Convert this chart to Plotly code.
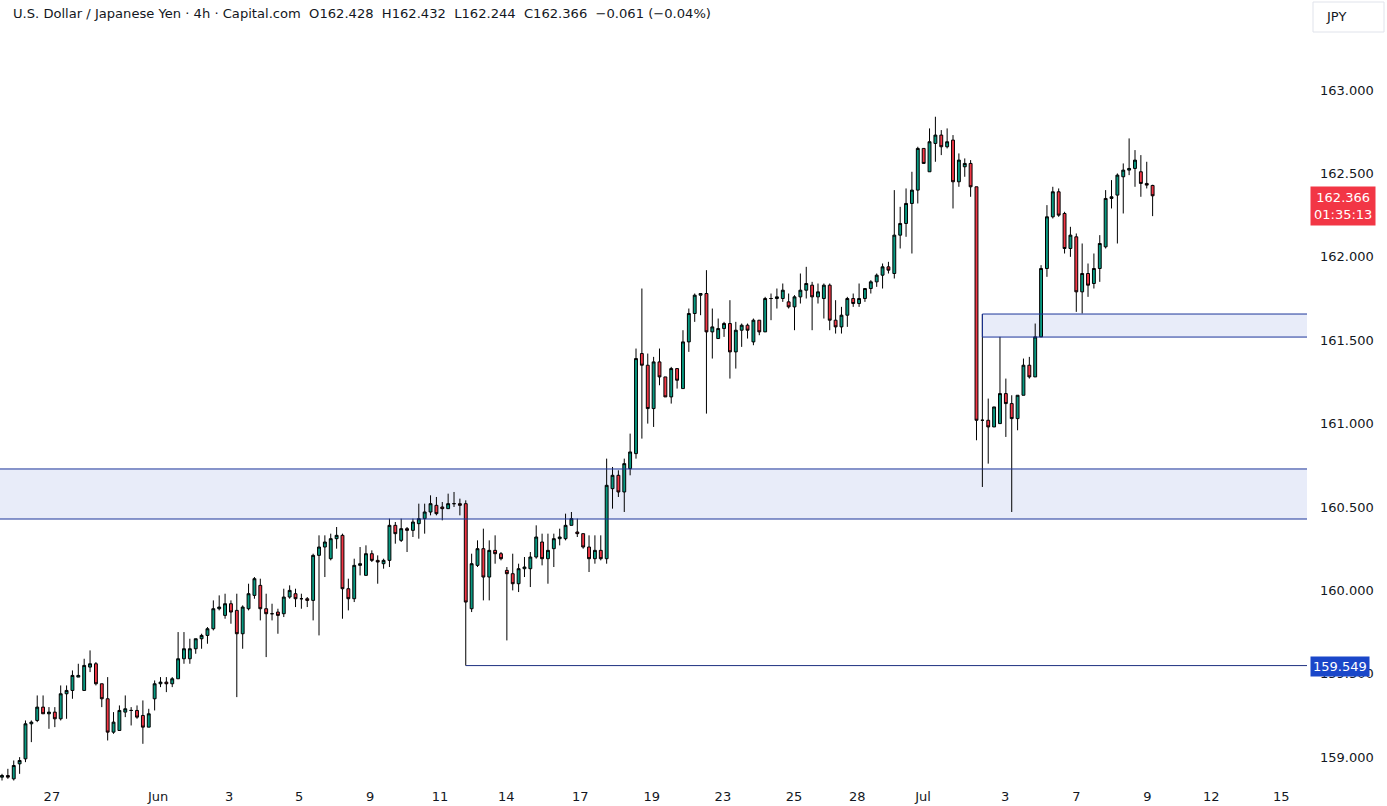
import plotly.graph_objects as go

# ---------------- data (USD/JPY, 4h, Capital.com) ----------------
opens = [
    158.88, 158.89, 158.87, 158.96, 158.99, 159.20, 159.22, 159.30, 159.26, 159.27,
    159.23, 159.38, 159.40, 159.48, 159.40, 159.54, 159.56, 159.44, 159.35, 159.15,
    159.16, 159.27, 159.28, 159.28, 159.25, 159.18, 159.35, 159.44, 159.45, 159.44,
    159.47, 159.59, 159.59, 159.65, 159.71, 159.73, 159.77, 159.89, 159.85, 159.92,
    159.88, 159.74, 159.89, 159.97, 160.03, 159.89, 159.86, 159.87, 159.86, 159.96,
    159.98, 159.95, 159.95, 159.94, 160.21, 160.26, 160.19, 160.31, 160.33, 160.01,
    159.95, 160.15, 160.09, 160.22, 160.18, 160.16, 160.18, 160.39, 160.30, 160.37,
    160.36, 160.40, 160.43, 160.47, 160.51, 160.50, 160.49, 160.52, 160.52, 160.52,
    159.89, 160.15, 160.25, 160.08, 160.24, 160.22, 160.12, 160.10, 160.04, 160.13,
    160.13, 160.20, 160.29, 160.19, 160.25, 160.31, 160.31, 160.39, 160.35, 160.34,
    160.26, 160.19, 160.24, 160.19, 160.61, 160.69, 160.59, 160.73, 160.82, 161.42,
    161.35, 161.09, 161.37, 161.28, 161.16, 161.33, 161.21, 161.49, 161.66, 161.77,
    161.78, 161.55, 161.51, 161.57, 161.60, 161.43, 161.56, 161.59, 161.49, 161.62,
    161.55, 161.75, 161.75, 161.75, 161.73, 161.70, 161.76, 161.80, 161.83, 161.76,
    161.75, 161.83, 161.62, 161.58, 161.65, 161.75, 161.72, 161.75, 161.81, 161.85,
    161.89, 161.94, 161.90, 162.13, 162.20, 162.32, 162.40, 162.65, 162.51, 162.68,
    162.73, 162.66, 162.70, 162.45, 162.54, 162.56, 162.42, 161.02, 161.02, 160.98,
    161.00, 161.18, 161.12, 161.03, 161.17, 161.35, 161.28, 161.52, 161.93, 162.24,
    162.39, 162.26, 162.05, 162.12, 161.79, 161.90, 161.84, 161.93, 162.06, 162.35,
    162.37, 162.48, 162.52, 162.53, 162.51, 162.44, 162.428,
]
highs = [
    158.90, 158.93, 158.98, 159.00, 159.22, 159.22, 159.37, 159.37, 159.30, 159.30,
    159.43, 159.43, 159.52, 159.56, 159.59, 159.64, 159.57, 159.44, 159.48, 159.27,
    159.31, 159.37, 159.30, 159.31, 159.34, 159.29, 159.46, 159.48, 159.48, 159.48,
    159.75, 159.75, 159.71, 159.71, 159.74, 159.78, 159.94, 159.97, 159.98, 159.94,
    159.98, 159.91, 160.04, 160.08, 160.07, 159.98, 159.92, 159.89, 160.01, 160.03,
    160.01, 159.98, 159.96, 160.22, 160.33, 160.33, 160.34, 160.38, 160.34, 160.07,
    160.19, 160.26, 160.27, 160.24, 160.21, 160.19, 160.43, 160.41, 160.43, 160.38,
    160.43, 160.52, 160.52, 160.57, 160.56, 160.53, 160.58, 160.59, 160.55, 160.54,
    160.22, 160.30, 160.37, 160.30, 160.33, 160.23, 160.14, 160.22, 160.16, 160.20,
    160.23, 160.39, 160.34, 160.34, 160.34, 160.37, 160.46, 160.47, 160.43, 160.34,
    160.33, 160.33, 160.33, 160.79, 160.74, 160.72, 160.79, 160.94, 161.45, 161.81,
    161.42, 161.40, 161.45, 161.28, 161.34, 161.33, 161.56, 161.69, 161.78, 161.78,
    161.92, 161.69, 161.63, 161.61, 161.74, 161.61, 161.60, 161.60, 161.63, 161.62,
    161.76, 161.78, 161.81, 161.84, 161.78, 161.77, 161.90, 161.94, 161.85, 161.84,
    161.84, 161.84, 161.74, 161.70, 161.76, 161.78, 161.84, 161.81, 161.86, 161.90,
    161.96, 161.97, 162.40, 162.30, 162.41, 162.51, 162.66, 162.65, 162.77, 162.84,
    162.76, 162.77, 162.73, 162.62, 162.59, 162.58, 162.42, 161.657, 161.15, 161.10,
    161.52, 161.27, 161.17, 161.17, 161.39, 161.40, 161.60, 161.95, 162.31, 162.42,
    162.41, 162.27, 162.18, 162.14, 162.08, 161.96, 162.02, 162.13, 162.40, 162.46,
    162.50, 162.56, 162.71, 162.64, 162.61, 162.57, 162.432,
]
lows = [
    158.86, 158.87, 158.86, 158.90, 158.97, 159.09, 159.21, 159.26, 159.17, 159.18,
    159.22, 159.23, 159.35, 159.48, 159.40, 159.51, 159.43, 159.30, 159.10, 159.14,
    159.16, 159.24, 159.19, 159.23, 159.08, 159.18, 159.28, 159.42, 159.39, 159.42,
    159.47, 159.56, 159.56, 159.62, 159.65, 159.68, 159.76, 159.88, 159.83, 159.80,
    159.36, 159.65, 159.88, 159.95, 159.82, 159.60, 159.82, 159.74, 159.84, 159.95,
    159.90, 159.89, 159.90, 159.82, 159.73, 160.08, 160.18, 160.25, 159.83, 159.88,
    159.93, 160.09, 160.09, 160.17, 160.04, 160.13, 160.14, 160.28, 160.29, 160.23,
    160.32, 160.31, 160.34, 160.45, 160.45, 160.42, 160.49, 160.50, 160.45, 159.549,
    159.87, 160.14, 159.94, 159.94, 160.16, 160.18, 159.70, 160.00, 159.99, 160.08,
    160.02, 160.19, 160.15, 160.04, 160.14, 160.27, 160.30, 160.39, 160.32, 160.25,
    160.11, 160.16, 160.18, 160.16, 160.49, 160.56, 160.47, 160.69, 160.79, 160.91,
    161.00, 160.98, 161.23, 161.16, 161.12, 161.21, 161.21, 161.43, 161.61, 161.65,
    161.06, 161.39, 161.51, 161.52, 161.27, 161.33, 161.46, 161.51, 161.47, 161.53,
    161.55, 161.62, 161.69, 161.73, 161.69, 161.56, 161.72, 161.75, 161.56, 161.72,
    161.63, 161.56, 161.54, 161.54, 161.58, 161.70, 161.70, 161.73, 161.78, 161.82,
    161.81, 161.90, 161.87, 162.05, 162.12, 162.02, 162.32, 162.56, 162.51, 162.57,
    162.61, 162.65, 162.29, 162.42, 162.48, 162.36, 160.90, 160.62, 160.76, 160.98,
    161.00, 160.92, 160.47, 160.96, 161.17, 161.27, 161.28, 161.52, 161.88, 162.23,
    162.24, 162.02, 162.00, 161.67, 161.66, 161.76, 161.81, 161.85, 162.05, 162.29,
    162.08, 162.26, 162.49, 162.42, 162.36, 162.41, 162.244,
]
closes = [
    158.89, 158.88, 158.95, 158.98, 159.20, 159.21, 159.30, 159.26, 159.27, 159.23,
    159.38, 159.40, 159.49, 159.49, 159.55, 159.56, 159.44, 159.35, 159.15, 159.21,
    159.28, 159.29, 159.28, 159.24, 159.18, 159.26, 159.44, 159.45, 159.44, 159.47,
    159.59, 159.65, 159.65, 159.71, 159.73, 159.77, 159.89, 159.90, 159.92, 159.87,
    159.74, 159.90, 159.98, 160.07, 159.89, 159.86, 159.86, 159.85, 159.96, 160.00,
    159.95, 159.95, 159.94, 160.21, 160.26, 160.29, 160.31, 160.33, 160.01, 159.95,
    160.15, 160.16, 160.22, 160.18, 160.17, 160.18, 160.39, 160.34, 160.37, 160.36,
    160.41, 160.43, 160.47, 160.52, 160.46, 160.49, 160.52, 160.52, 160.51, 159.93,
    160.16, 160.25, 160.08, 160.24, 160.22, 160.19, 160.10, 160.04, 160.13, 160.14,
    160.20, 160.32, 160.19, 160.24, 160.31, 160.32, 160.39, 160.43, 160.34, 160.26,
    160.19, 160.24, 160.19, 160.63, 160.69, 160.59, 160.76, 160.83, 161.39, 161.35,
    161.09, 161.37, 161.28, 161.16, 161.33, 161.26, 161.49, 161.66, 161.77, 161.78,
    161.55, 161.58, 161.57, 161.60, 161.43, 161.56, 161.59, 161.56, 161.62, 161.55,
    161.75, 161.75, 161.76, 161.80, 161.70, 161.76, 161.80, 161.84, 161.76, 161.79,
    161.83, 161.62, 161.58, 161.65, 161.75, 161.72, 161.75, 161.81, 161.85, 161.89,
    161.94, 161.92, 162.13, 162.20, 162.32, 162.40, 162.65, 162.56, 162.69, 162.73,
    162.66, 162.69, 162.45, 162.58, 162.56, 162.42, 161.02, 161.02, 160.98, 161.10,
    161.18, 161.12, 161.03, 161.17, 161.35, 161.28, 161.52, 161.93, 162.24, 162.39,
    162.25, 162.05, 162.13, 161.79, 161.90, 161.83, 161.93, 162.08, 162.35, 162.36,
    162.49, 162.52, 162.53, 162.58, 162.44, 162.43, 162.366,
]
assert len(opens) == len(highs) == len(lows) == len(closes)

# time-axis labels and the bar positions where they fall
tick_labels = ["27", "Jun", "3", "5", "9", "11", "14", "17", "19", "23", "25",
               "28", "Jul", "3", "7", "9", "12", "15"]
tick_bars = [8.5, 26.6, 38.7, 50.6, 62.7, 74.6, 85.9, 98.5, 110.7, 122.8, 134.9,
             145.7, 156.9, 170.9, 183.0, 195.1, 206.0, 217.9]

price_ticks = [159.0, 159.5, 160.0, 160.5, 161.0, 161.5, 162.0, 162.5, 163.0]

# drawings
zone1 = (160.428, 160.728)          # wide demand zone
zone2 = (161.519, 161.657)          # small zone after the drop
level_price = 159.549               # horizontal line level
last_price = 162.366
countdown = "01:35:13"

header = ("U.S. Dollar / Japanese Yen · 4h · Capital.com  "
          "O162.428  H162.432  L162.244  C162.366  −0.061 (−0.04%)")

# ---------------- figure ----------------
bars = list(range(len(opens)))
X_MIN, X_MAX = -0.34, 222.3
Y_MIN, Y_MAX = 158.851, 163.540

GREEN, RED = "#089981", "#F23645"
ZONE_FILL, ZONE_LINE = "#E8ECF9", "#1B3499"
TXT = "#131722"
FONT = "DejaVu Sans"

fig = go.Figure()
fig.add_trace(go.Candlestick(
    x=bars, open=opens, high=highs, low=lows, close=closes,
    increasing=dict(fillcolor=GREEN, line=dict(color="#000000", width=1)),
    decreasing=dict(fillcolor=RED, line=dict(color="#000000", width=1)),
    whiskerwidth=0, showlegend=False, hoverinfo="skip",
))

zone2_start = highs.index(zone2[1])
level_start = lows.index(level_price)

shapes = [
    # wide zone
    dict(type="rect", xref="paper", yref="y", x0=0, x1=1, y0=zone1[0], y1=zone1[1],
         fillcolor=ZONE_FILL, line=dict(width=0), layer="below"),
    dict(type="line", xref="paper", yref="y", x0=0, x1=1, y0=zone1[0], y1=zone1[0],
         line=dict(color=ZONE_LINE, width=1)),
    dict(type="line", xref="paper", yref="y", x0=0, x1=1, y0=zone1[1], y1=zone1[1],
         line=dict(color=ZONE_LINE, width=1)),
    # small zone
    dict(type="rect", xref="x", yref="y", x0=zone2_start, x1=X_MAX, y0=zone2[0], y1=zone2[1],
         fillcolor=ZONE_FILL, line=dict(width=0), layer="below"),
    dict(type="line", xref="x", yref="y", x0=zone2_start, x1=X_MAX, y0=zone2[0], y1=zone2[0],
         line=dict(color=ZONE_LINE, width=1)),
    dict(type="line", xref="x", yref="y", x0=zone2_start, x1=X_MAX, y0=zone2[1], y1=zone2[1],
         line=dict(color=ZONE_LINE, width=1)),
    dict(type="line", xref="x", yref="y", x0=zone2_start, x1=zone2_start, y0=zone2[0], y1=zone2[1],
         line=dict(color=ZONE_LINE, width=1)),
    # horizontal level
    dict(type="line", xref="x", yref="y", x0=level_start, x1=X_MAX, y0=level_price, y1=level_price,
         line=dict(color="#1E3080", width=1)),
    # JPY box
    dict(type="rect", xref="paper", yref="paper", x0=1313 / 1307, x1=1384 / 1307,
         y0=(782 - 32) / 782, y1=(782 - 2) / 782,
         line=dict(color="#E0E3EB", width=1), fillcolor="#FFFFFF"),
]

annotations = [
    dict(text=header, xref="paper", yref="paper", x=11 / 1307, y=(782 - 14) / 782,
         xanchor="left", yanchor="middle", showarrow=False,
         font=dict(family=FONT, size=13.1, color=TXT)),
    dict(text="JPY", xref="paper", yref="paper", x=1336 / 1307, y=(782 - 16) / 782,
         xanchor="center", yanchor="middle", showarrow=False,
         font=dict(family=FONT, size=13, color=TXT)),
    dict(text=f"{last_price:.3f}<br>{countdown}", xref="paper", yref="y",
         x=1310 / 1307, y=last_price, xanchor="left", yanchor="top", yshift=10,
         showarrow=False, align="center", bgcolor=RED, borderpad=3,
         font=dict(family=FONT, size=13, color="#FFFFFF")),
    dict(text=f"{level_price:.3f}", xref="paper", yref="y",
         x=1310 / 1307, y=level_price, xanchor="left", yanchor="middle", yshift=-1,
         showarrow=False, bgcolor="#1A47C9", borderpad=2,
         font=dict(family=FONT, size=13, color="#FFFFFF")),
]

fig.update_layout(
    width=1387, height=806,
    margin=dict(l=0, r=80, t=0, b=24),
    paper_bgcolor="#FFFFFF", plot_bgcolor="#FFFFFF",
    shapes=shapes, annotations=annotations,
    showlegend=False,
    font=dict(family=FONT, size=13, color=TXT),
    xaxis=dict(range=[X_MIN, X_MAX], rangeslider=dict(visible=False),
               showgrid=False, zeroline=False, showline=False, ticks="",
               tickmode="array", tickvals=tick_bars, ticktext=tick_labels,
               ticklabelstandoff=5,
               tickfont=dict(family=FONT, size=13, color=TXT), fixedrange=True),
    yaxis=dict(range=[Y_MIN, Y_MAX], side="right", showgrid=False, zeroline=False,
               showline=False, ticks="", tickmode="array", tickvals=price_ticks,
               ticktext=[f"{p:.3f}" for p in price_ticks], ticklabelstandoff=12,
               tickfont=dict(family=FONT, size=13, color=TXT), fixedrange=True),
)

fig.write_html("out.html")
